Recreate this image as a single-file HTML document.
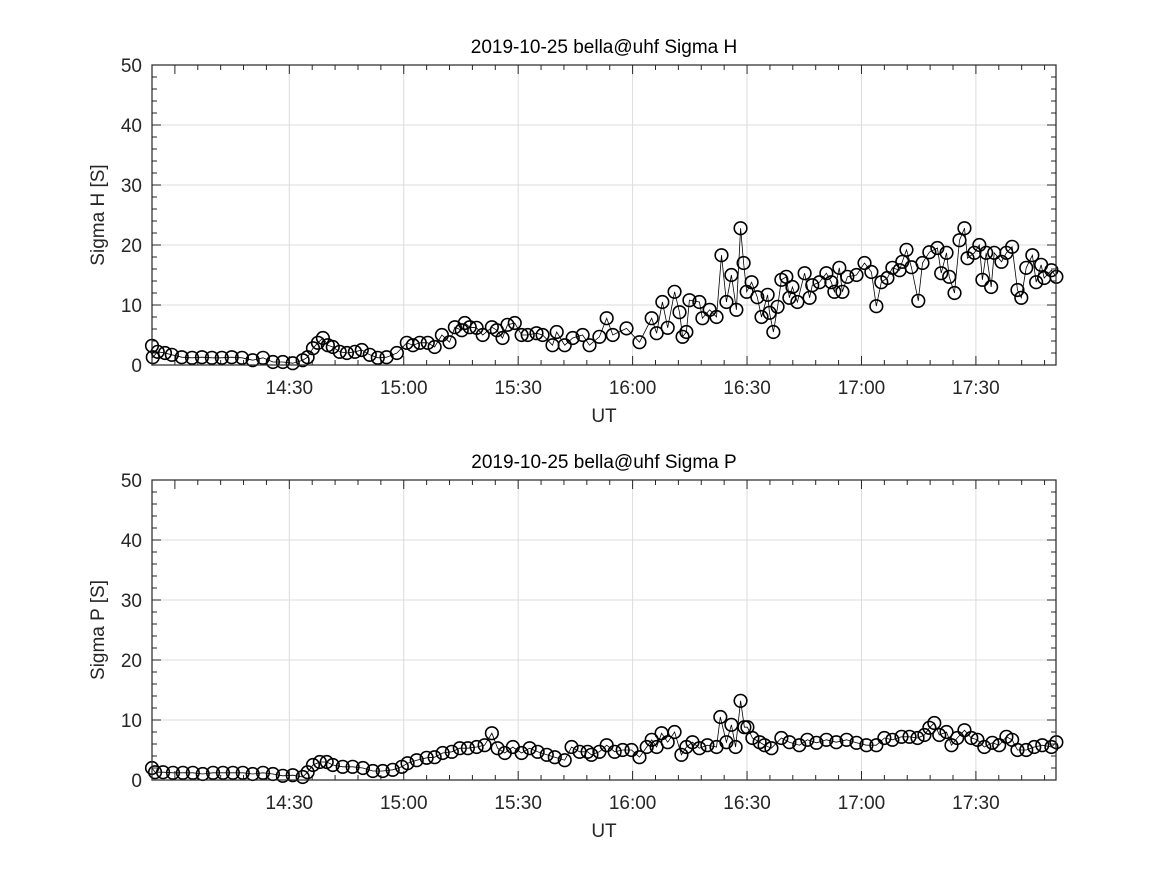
<!DOCTYPE html>
<html><head><meta charset="utf-8">
<style>
html,body{margin:0;padding:0;background:#fff;}
svg{display:block;font-family:"Liberation Sans",sans-serif;}
</style></head>
<body>
<svg id="fig" width="1167" height="875" viewBox="0 0 1167 875"></svg>
<script>
// Times in minutes after 14:00 UT; values in Siemens
const hTimes=[-6,-5.8,-4.5,-2.6,-0.8,1.8,4.5,7.1,9.7,12.3,14.9,17.6,20.4,23.1,25.7,28.3,30.9,33.5,34.8,36.2,37.5,38.8,40.1,41.4,43.2,45.1,47.2,49,51.1,53.2,55.5,58.2,60.8,62.4,64.2,66.3,68.1,70,72,73.4,75.2,76,77.3,79.1,80.7,83.1,84.4,85.9,87.2,89.1,90.9,92.5,94.8,96.4,99,100.1,102.2,104.3,106.9,108.7,111.3,113.2,114.8,118.4,121.8,125,126.3,127.8,129.2,131,132.3,133.1,134.1,134.9,137.5,138.3,140.2,142,143.3,144.6,145.9,147.2,148.3,149.1,149.9,151.2,152.7,153.8,155.4,155.9,156.9,158,159,160.3,161.1,161.9,163.2,165.1,166.4,167.1,169,170.8,172.1,172.9,174.2,175,176.3,178.7,180.8,182.6,183.9,185.2,186.8,188.1,190,190.7,191.8,193.1,194.9,196,197.8,199.9,200.9,202.3,203,204.4,205.7,207,207.8,209.6,210.9,211.7,212.7,214,214.8,216.7,218,219.5,220.9,221.9,223.2,224.8,225.8,227.1,227.9,229.8,231.1];
const hValues=[3.2,1.3,2.2,2,1.7,1.3,1.2,1.3,1.2,1.2,1.3,1.2,0.8,1.2,0.5,0.5,0.3,0.8,1.3,2.8,3.7,4.5,3.3,3,2.2,2,2.2,2.5,1.7,1.2,1.3,2,3.7,3.3,3.7,3.7,3,5,3.8,6.3,5.8,7,6.3,6.2,5,6.3,5.8,4.5,6.7,7,5,5,5.3,5,3.3,5.5,3.3,4.5,5,3.3,4.7,7.8,5,6.1,3.8,7.8,5.3,10.5,6.2,12.2,8.8,4.7,5.5,10.8,10.5,7.8,9.2,8,18.3,10.5,15,9.2,22.8,17,12.2,13.8,11.3,8,11.7,8.7,5.5,9.7,14.2,14.7,11.2,13,10.5,15.3,11.2,13.3,13.8,15.3,13.8,12.2,16.2,12.2,14.7,15,17,15.5,9.8,13.8,14.5,16.2,15.8,17.2,19.2,16.3,10.7,17,18.8,19.5,15.3,18.7,14.7,12,20.8,22.8,17.8,18.7,20,14.2,18.7,13,18.7,17.2,18.7,19.7,12.5,11.2,16.2,18.3,13.8,16.7,14.5,15.8,14.7];
const pTimes=[-6,-5.2,-3.1,-0.5,2.1,4.7,7.3,10,12.6,15.2,17.8,20.4,23.1,25.7,28.3,30.9,33.5,34.8,36.2,38,39.8,41.4,44,46.6,49.3,51.9,54.5,57.1,59.5,61,63.4,66,68.1,70.2,72.6,74.7,76.8,79.1,81.2,83.1,84.6,86.5,88.6,90.9,93,95.1,97.5,99.6,102.2,104,106.1,108.2,109.2,111.3,113.2,115.3,117.4,119.7,121.8,123.7,125,126.3,127.6,129.2,131,132.8,134.1,135.7,137.5,139.6,142,143,144.6,145.9,147,148.3,149.3,150.1,151.4,153.3,154.6,156.4,159,161.1,163.7,165.8,168.2,170.8,173.4,176.1,178.7,181.3,183.9,186,188.1,190.5,192.6,194.7,196.5,197.8,199.1,200.4,202.3,203.6,205.1,207,208.8,210.4,212.2,214.3,216.1,218,219.5,220.9,223.2,225.3,227.4,229.8,231.1];
const pValues=[2,1.3,1.3,1.2,1.2,1.2,1,1.2,1.2,1.2,1.2,1,1.2,1,0.7,0.8,0.5,1.3,2.5,3,3,2.5,2.2,2.2,2,1.5,1.5,1.7,2.2,2.8,3.3,3.7,3.8,4.5,4.7,5.3,5.3,5.5,5.8,7.8,5.3,4.5,5.5,4.5,5.3,4.7,4.2,3.8,3.3,5.5,4.7,4.7,4.2,4.7,5.8,4.7,5,5,3.8,5.5,6.7,5.5,7.8,6.3,8,4.2,5.5,6.3,5.3,5.8,5.5,10.5,6.3,9.2,5.5,13.2,8.8,8.8,7,6.3,5.8,5.3,7,6.3,5.8,6.7,6.2,6.7,6.3,6.7,6.2,5.8,5.8,7,6.7,7.2,7.2,7,7.5,8.7,9.5,7.5,8,5.8,7,8.3,7,6.7,5.5,6.2,5.8,7.2,6.7,5,5,5.5,5.8,5.5,6.3];
const xTickMinutes=[30,60,90,120,150,180,210];
const xTickLabels=["14:30","15:00","15:30","16:00","16:30","17:00","17:30"];
const yTicks=[0,10,20,30,40,50];

const NS="http://www.w3.org/2000/svg";
const svg=document.getElementById('fig');
function el(tag,attrs,parent){const e=document.createElementNS(NS,tag);for(const k in attrs)e.setAttribute(k,attrs[k]);(parent||svg).appendChild(e);return e;}
const X0=152,X1=1056,TMIN=-6,TMAX=231;
function xs(t){return X0+(t-TMIN)/(TMAX-TMIN)*(X1-X0);}

function panel(top,title,ylabel,times,vals,key){
  const bot=top+300;
  const g=el('g',{});
  
  
  const ys=v=>bot-(v/50)*(bot-top);
  // grid
  yTicks.forEach(v=>{if(v>0&&v<50){const l=el('line',{x1:X0,x2:X1,y1:ys(v),y2:ys(v),stroke:'#dcdcdc','stroke-width':1},g);}});
  xTickMinutes.forEach(t=>{const l=el('line',{x1:xs(t),x2:xs(t),y1:top,y2:bot,stroke:'#dcdcdc','stroke-width':1},g);});
  // minor/major ticks
  for(let v=0;v<=50;v+=2){const len=(v%10===0)?9:5;
    el('line',{x1:X0,x2:X0+len,y1:ys(v),y2:ys(v),stroke:'#262626','stroke-width':1},g);
    el('line',{x1:X1,x2:X1-len,y1:ys(v),y2:ys(v),stroke:'#262626','stroke-width':1},g);}
  for(let t=0;t<=TMAX;t+=6){const len=(t%30===0)?9:5;
    el('line',{x1:xs(t),x2:xs(t),y1:bot,y2:bot-len,stroke:'#262626','stroke-width':1},g);
    el('line',{x1:xs(t),x2:xs(t),y1:top,y2:top+len,stroke:'#262626','stroke-width':1},g);}
  // line series
  const pts=times.map((t,i)=>xs(t).toFixed(1)+','+ys(vals[i]).toFixed(1)).join(' ');
  const pl=el('polyline',{points:pts,fill:'none',stroke:'#000','stroke-width':0.8},g);
  
  
  times.forEach((t,i)=>{
    const c=el('circle',{cx:xs(t),cy:ys(vals[i]),r:6.3,fill:'none',stroke:'#000','stroke-width':1.6},g);
    
    
  });
  // box
  const b=el('rect',{x:X0,y:top,width:X1-X0,height:bot-top,fill:'none',stroke:'#262626','stroke-width':1.2},g);
  
  
  // tick labels
  yTicks.forEach(v=>{const tx=el('text',{x:142,y:ys(v)+7,'text-anchor':'end','font-size':19,fill:'#262626'},g);tx.textContent=v;});
  xTickMinutes.forEach((t,i)=>{const tx=el('text',{x:xs(t),y:bot+29,'text-anchor':'middle','font-size':19,fill:'#262626'},g);tx.textContent=xTickLabels[i];});
  const xl=el('text',{x:(X0+X1)/2,y:bot+57,'text-anchor':'middle','font-size':19,fill:'#262626'},g);
  xl.textContent='UT';
  
  
  const yl=el('text',{x:0,y:0,'text-anchor':'middle','font-size':19,fill:'#262626',transform:`translate(104,${(top+bot)/2}) rotate(-90)`},g);
  yl.textContent=ylabel;
  
  
  const ti=el('text',{x:(X0+X1)/2,y:top-12,'text-anchor':'middle','font-size':19,fill:'#000'},g);
  ti.textContent=title;
  
  
}
panel(65,'2019-10-25  bella@uhf Sigma H','Sigma H [S]',hTimes,hValues,'sigma-h');
panel(480,'2019-10-25  bella@uhf Sigma P','Sigma P [S]',pTimes,pValues,'sigma-p');
</script>
</body></html>
